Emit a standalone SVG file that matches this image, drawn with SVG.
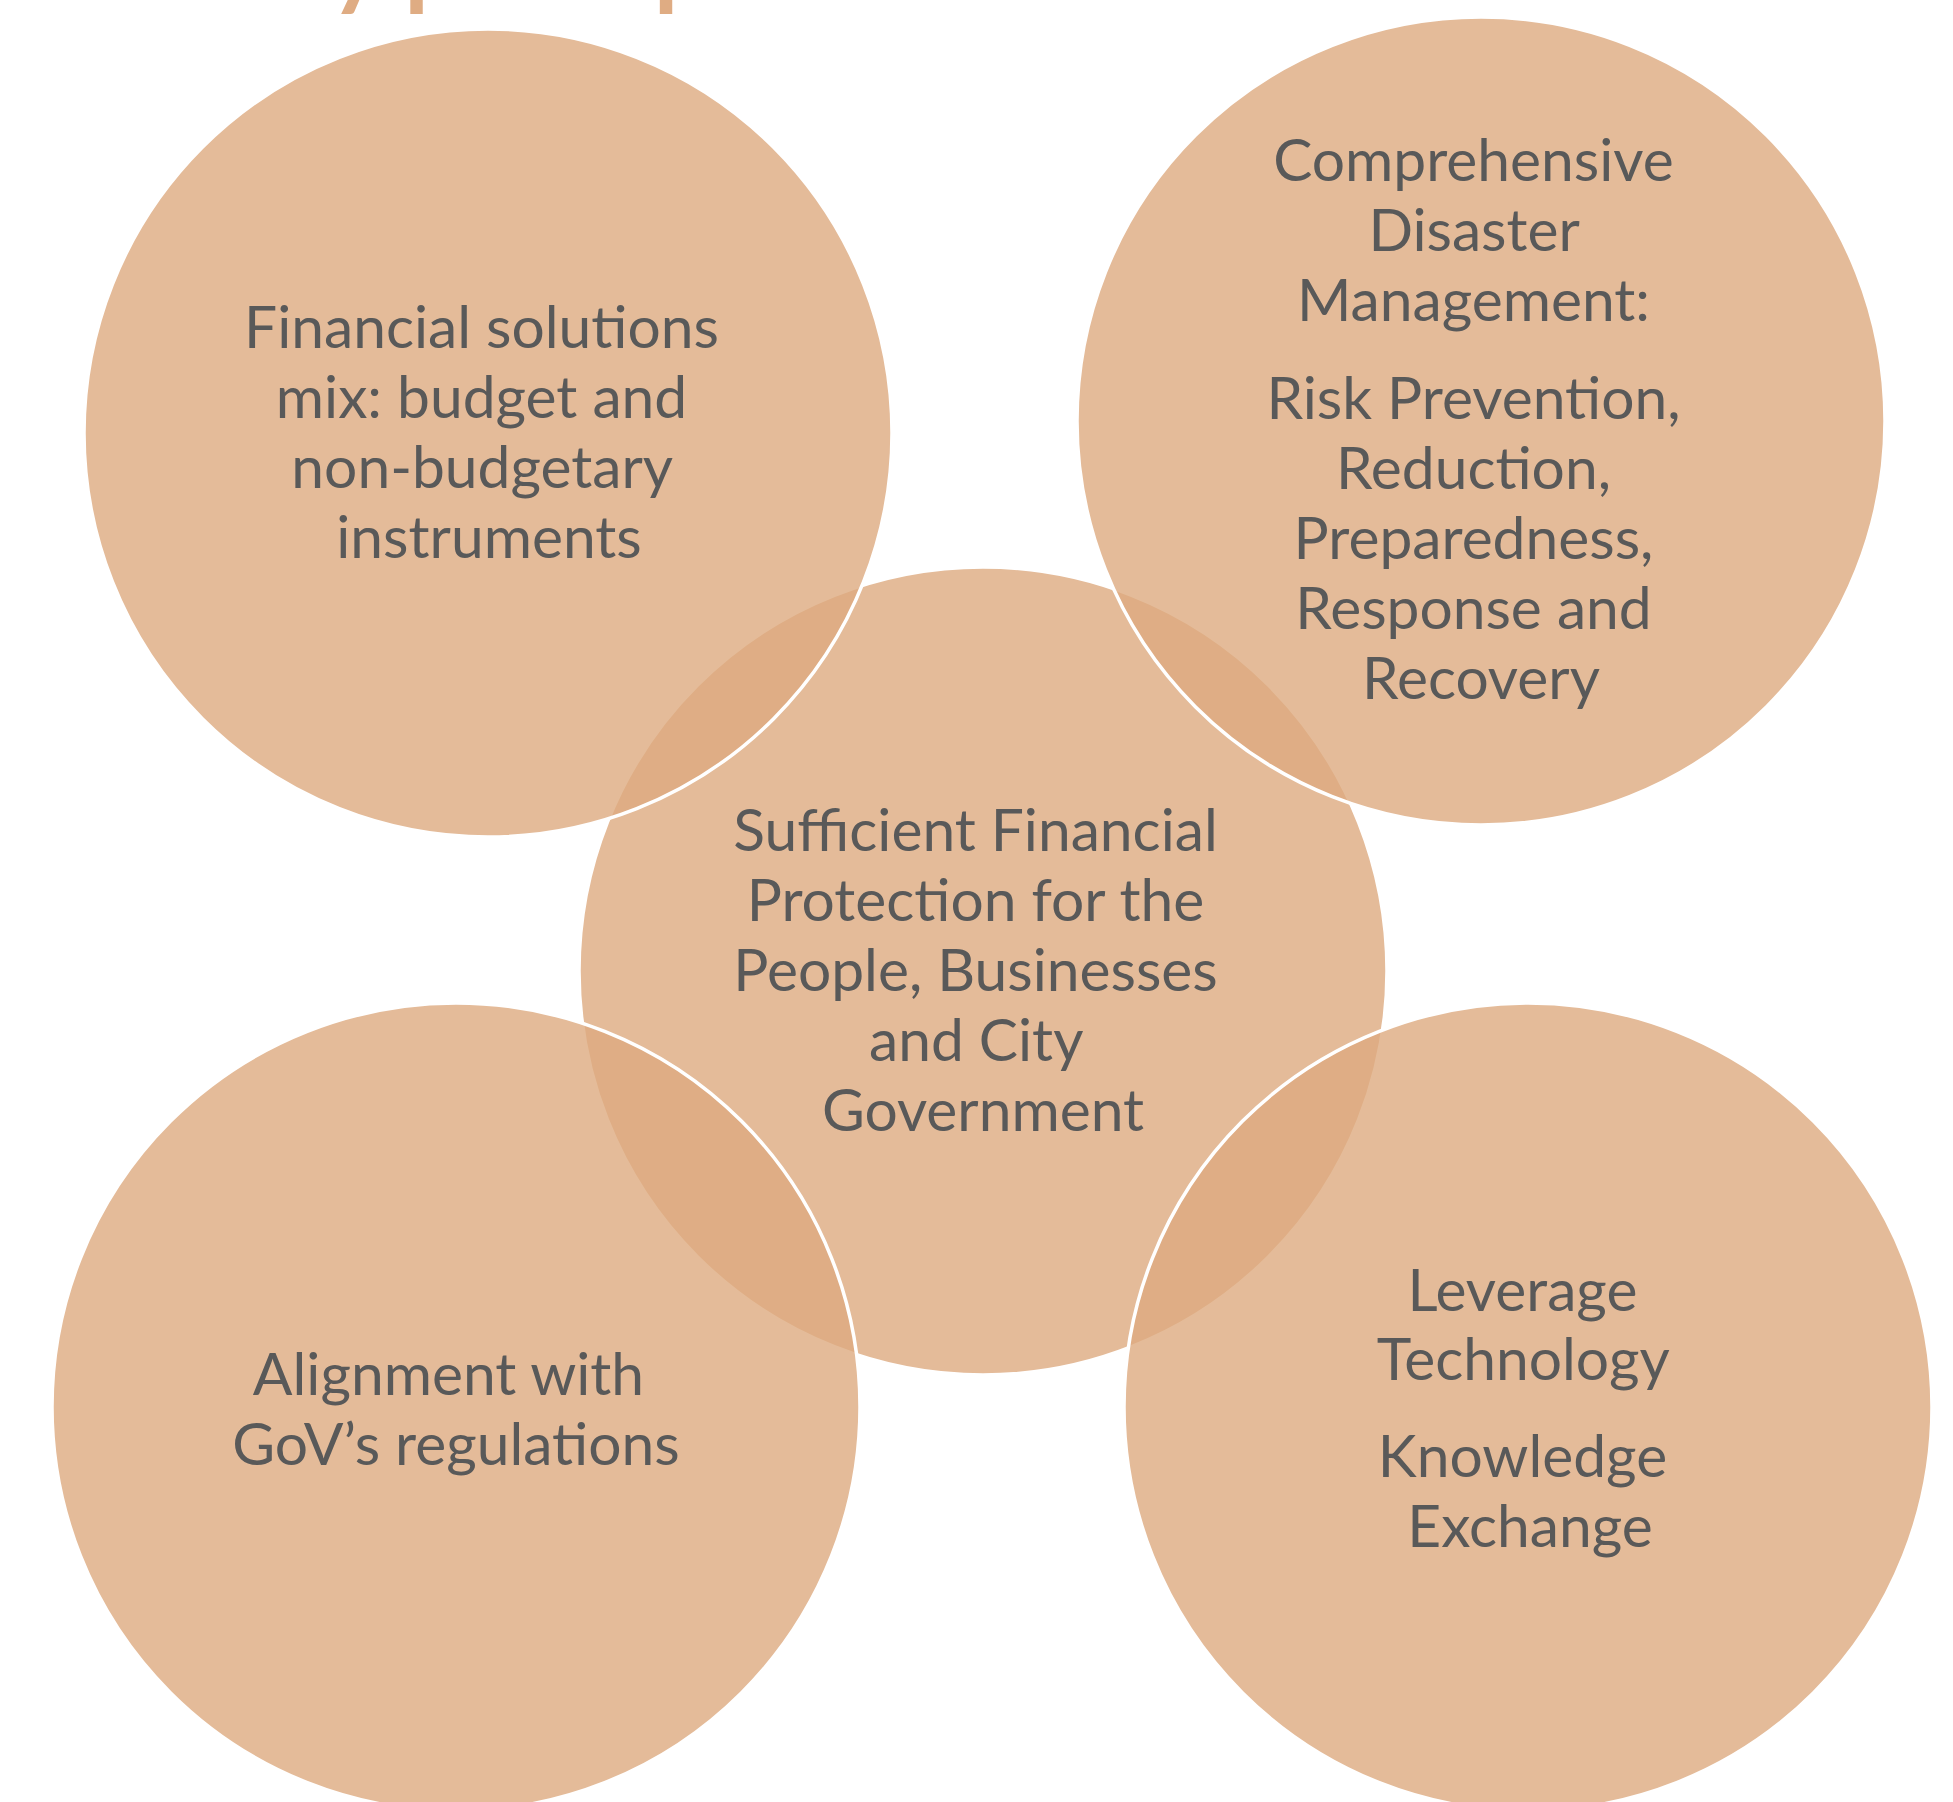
<svg xmlns="http://www.w3.org/2000/svg" width="1953" height="1802" viewBox="0 0 1953 1802">
  <style>
    .bg { fill: #ffffff; }
    .c { fill: #DDAA80; fill-opacity: 0.8; stroke: #ffffff; stroke-width: 3.5; }
    .t { font-family: Lato, "Open Sans", "Liberation Sans", sans-serif; font-size: 58.7px; fill: #595959; text-anchor: middle; }
    .title { font-family: Lato, "Open Sans", "Liberation Sans", sans-serif; font-weight: bold; font-size: 100px; fill: #DFAC83; }
  </style>
  <rect class="bg" x="0" y="0" width="1953" height="1802"/>
  <text id="title" class="title" x="213" y="-3">Key principles</text>
  <g id="connectors"></g>
  <g id="node-center">
    <circle class="c" cx="983" cy="971" r="404"/>
    <text class="t">
      <tspan x="983" y="851">Sufficient Financial</tspan>
      <tspan x="983" y="921">Protection for the</tspan>
      <tspan x="983" y="991">People, Businesses</tspan>
      <tspan x="983" y="1061">and City</tspan>
      <tspan x="983" y="1131">Government</tspan>
    </text>
  </g>
  <g id="node-top-left">
    <circle class="c" cx="488" cy="433" r="404"/>
    <text class="t">
      <tspan x="489" y="348">Financial solutions</tspan>
      <tspan x="489" y="418">mix: budget and</tspan>
      <tspan x="489" y="488">non-budgetary</tspan>
      <tspan x="489" y="558">instruments</tspan>
    </text>
  </g>
  <g id="node-top-right">
    <circle class="c" cx="1481" cy="421" r="404"/>
    <text class="t">
      <tspan x="1481" y="181">Comprehensive</tspan>
      <tspan x="1481" y="251">Disaster</tspan>
      <tspan x="1481" y="321">Management:</tspan>
      <tspan x="1481" y="419">Risk Prevention,</tspan>
      <tspan x="1481" y="489">Reduction,</tspan>
      <tspan x="1481" y="559">Preparedness,</tspan>
      <tspan x="1481" y="629">Response and</tspan>
      <tspan x="1481" y="699">Recovery</tspan>
    </text>
  </g>
  <g id="node-bottom-left">
    <circle class="c" cx="456" cy="1407" r="404"/>
    <text class="t">
      <tspan x="456" y="1395">Alignment with</tspan>
      <tspan x="456" y="1465">GoV’s regulations</tspan>
    </text>
  </g>
  <g id="node-bottom-right">
    <circle class="c" cx="1528" cy="1407" r="404"/>
    <text class="t">
      <tspan x="1530" y="1311">Leverage</tspan>
      <tspan x="1530" y="1380">Technology</tspan>
      <tspan x="1530" y="1477">Knowledge</tspan>
      <tspan x="1530" y="1547">Exchange</tspan>
    </text>
  </g>
</svg>
